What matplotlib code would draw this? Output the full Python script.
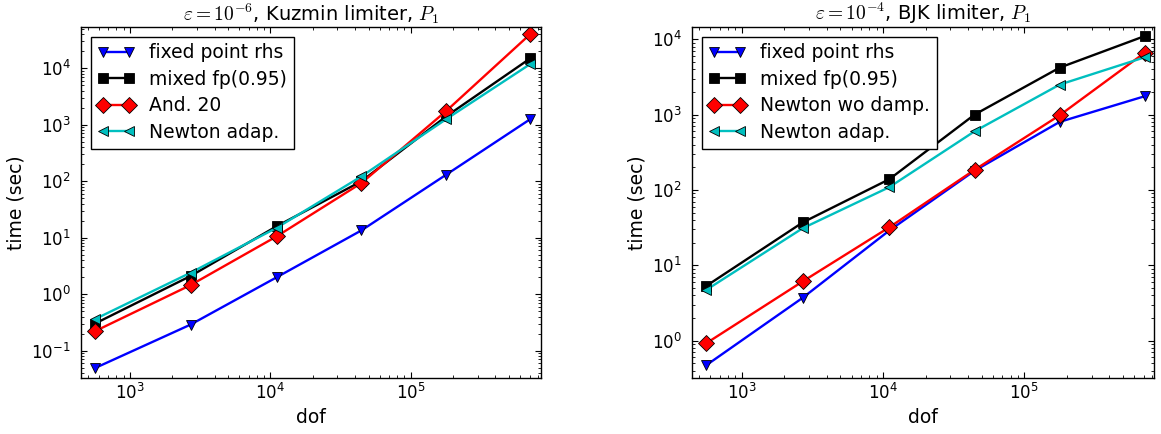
import numpy as np
import matplotlib
matplotlib.use('Agg')
import matplotlib.pyplot as plt

plt.rcParams['font.family'] = ['DejaVu Sans']
plt.rcParams['mathtext.fontset'] = 'dejavusans'

# --------------------------------------------------------------
# Data
# --------------------------------------------------------------

dof = [560, 2700, 11100, 44500, 178000, 710000]

# left panel: eps = 1e-6, Kuzmin limiter
kuz_fixed_point = [0.049, 0.29, 2.0, 13.5, 130, 1260]
kuz_mixed_fp = [0.30, 2.1, 16, 100, 1400, 15000]
kuz_anderson = [0.22, 1.45, 10.6, 93, 1740, 40400]
kuz_newton_adap = [0.36, 2.4, 15, 122, 1250, 11900]

# right panel: eps = 1e-4, BJK limiter
bjk_fixed_point = [0.47, 3.7, 29, 180, 800, 1750]
bjk_mixed_fp = [5.3, 37, 139, 1000, 4200, 11000]
bjk_newton_wo = [0.92, 6.1, 32, 185, 980, 6600]
bjk_newton_adap = [4.7, 31, 109, 600, 2500, 5750]

left_labels = ['fixed point rhs', 'mixed fp(0.95)', 'And. 20', 'Newton adap.']
right_labels = ['fixed point rhs', 'mixed fp(0.95)', 'Newton wo damp.', 'Newton adap.']

styles = [('b', 'v'), ('k', 's'), ('r', 'D'), ('c', '<')]

# --------------------------------------------------------------
# Helpers
# --------------------------------------------------------------

def draw_panel(ax, series, labels, title, xlim, ylim):
    for y, lab, (col, mk) in zip(series, labels, styles):
        ax.loglog(dof, y, color=col, marker=mk, lw=1.7, ms=7.8,
                  mec='k', mew=0.6, label=lab)
    ax.set_xlim(*xlim)
    ax.set_ylim(*ylim)
    ax.set_xlabel('dof', fontsize=13.5)
    ax.set_ylabel('time (sec)', fontsize=13.5)
    ax.set_title(title, fontsize=14, math_fontfamily='cm', pad=5)
    ax.tick_params(which='both', direction='in', top=True, right=True, labelsize=12)
    ax.tick_params(which='major', length=4)
    ax.tick_params(which='minor', length=2)
    ax.tick_params(axis='x', which='major', pad=3)
    ax.tick_params(axis='y', which='major', pad=7.5)
    leg = ax.legend(loc='upper left', numpoints=2, fontsize=13.5, fancybox=False,
                    framealpha=1, borderaxespad=0.5, handlelength=2.0,
                    handletextpad=0.75, labelspacing=0.4, borderpad=0.36)
    leg.get_frame().set_edgecolor('k')
    leg.get_frame().set_linewidth(1.0)
    for s in ax.spines.values():
        s.set_linewidth(1.0)

# --------------------------------------------------------------
# Main
# --------------------------------------------------------------

fig = plt.figure(figsize=(11.61, 4.34), dpi=100)
ax1 = fig.add_axes([0.0700, 0.1283, 0.3957, 0.8088])
ax2 = fig.add_axes([0.5963, 0.1283, 0.3977, 0.8088])

draw_panel(ax1, [kuz_fixed_point, kuz_mixed_fp, kuz_anderson, kuz_newton_adap],
           left_labels, r'$\varepsilon=10^{-6}$, Kuzmin limiter, $P_1$',
           (450, 8.4e5), (0.0325, 5.3e4))
draw_panel(ax2, [bjk_fixed_point, bjk_mixed_fp, bjk_newton_wo, bjk_newton_adap],
           right_labels, r'$\varepsilon=10^{-4}$, BJK limiter, $P_1$',
           (447, 8.28e5), (0.316, 1.44e4))

fig.savefig('out.png', dpi=100)
